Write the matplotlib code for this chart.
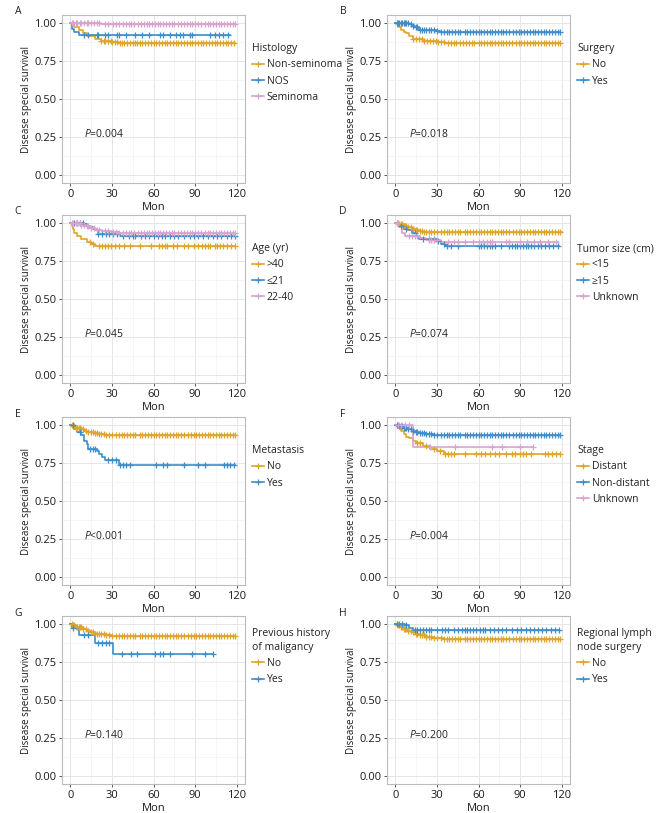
import numpy as np
import matplotlib.pyplot as plt
from matplotlib.lines import Line2D

plt.rcParams['font.family'] = ['Open Sans', 'DejaVu Sans']
plt.rcParams['mathtext.fontset'] = 'custom'
plt.rcParams['mathtext.it'] = 'Open Sans:italic'
plt.rcParams['mathtext.rm'] = 'Open Sans'

GOLD = '#DFA52A'
BLUE = '#3F8DCB'
PINK = '#D9A2CF'

# dense censoring lists (read roughly from the tick marks)
dense_a = [1, 2, 4, 5, 7, 8, 10, 12, 13, 15, 17, 19, 21, 25, 27, 31, 33, 35, 38, 40, 42, 44, 46, 49, 51,
           53, 55, 57, 59, 61, 63, 65, 67, 69, 71, 73, 75, 78, 80, 82, 84, 86, 88, 90, 92, 94, 97, 99,
           101, 103, 105, 107, 109, 111, 113, 115, 117, 119]
dense_b = [13, 15, 17, 19, 21, 23, 25, 27, 29, 31, 33, 35, 38, 40, 42, 44, 47, 49, 51, 53, 55, 57, 60,
           62, 64, 66, 68, 70, 72, 74, 76, 78, 80, 82, 84, 87, 89, 91, 93, 95, 97, 99, 101, 103, 105,
           107, 109, 111, 113, 115, 117, 119]
dense_c = [1, 2, 3, 4, 5, 6, 7, 8, 9, 11, 13, 15, 16, 18, 19, 21, 22, 24, 26, 28, 30, 33, 35, 37, 39,
           41, 43, 45, 47, 50, 52, 54, 56, 58, 60, 62, 64, 66, 68, 70, 72, 74, 76, 78, 80, 82, 85, 87,
           89, 91, 93, 95, 97, 99, 101, 103, 105, 107, 109, 111, 113, 115, 117, 119]

# A - Histology
a_labels = ['Non-seminoma', 'NOS', 'Seminoma']
a_t = [[3, 6, 9, 12, 18, 22, 30, 35], [1, 3, 6], [22]]
a_s = [[0.97, 0.95, 0.93, 0.91, 0.89, 0.88, 0.875, 0.865], [0.96, 0.94, 0.92], [0.99]]
a_end = [119, 115, 119]
a_cens = [[22, 24, 25, 27, 29, 30, 32, 34, 36, 37, 39, 41, 43, 45, 47, 48, 50, 52, 54, 56, 58, 60, 62,
           64, 66, 68, 70, 72, 74, 76, 78, 80, 82, 84, 86, 88, 90, 92, 94, 96, 98, 100, 102, 104, 106,
           108, 110, 112, 114, 116, 118],
          [10, 13, 19, 20, 25, 27, 34, 35, 40, 47, 52, 57, 65, 67, 72, 76, 79, 81, 86, 88, 101, 104,
           107, 110, 114],
          dense_a]

# B - Surgery
b_labels = ['No', 'Yes']
b_t = [[1, 2, 4, 6, 8, 10, 13, 20, 30, 36], [10, 12, 14, 17, 20, 30, 32]]
b_s = [[0.99, 0.97, 0.955, 0.94, 0.93, 0.91, 0.89, 0.88, 0.875, 0.865],
       [0.99, 0.98, 0.97, 0.955, 0.95, 0.945, 0.94]]
b_end = [119, 119]
b_cens = [dense_b, dense_c]

# C - Age
c_labels = ['>40', '≤21', '22-40']
c_t = [[1, 2, 3, 5, 8, 12, 15, 18], [10, 12, 14, 16, 18, 20, 36],
       [4, 8, 11, 14, 18, 23, 30, 35]]
c_s = [[0.98, 0.96, 0.93, 0.91, 0.89, 0.87, 0.86, 0.85],
       [0.99, 0.98, 0.97, 0.96, 0.95, 0.925, 0.91],
       [0.995, 0.985, 0.975, 0.965, 0.955, 0.945, 0.94, 0.935]]
c_end = [119, 119, 119]
c_cens = [[14, 16, 21, 23, 25, 27, 29, 32, 35, 39, 43, 50, 58, 64, 66, 68, 70, 74, 77, 82, 85, 89, 92,
           95, 97, 99, 101, 104, 106, 108, 110, 113, 116, 119],
          [3, 5, 7, 9, 20, 23, 26, 28, 31, 34, 38, 42, 45, 47, 51, 54, 57, 60, 63, 66, 68, 72, 75, 78,
           82, 86, 89, 92, 96, 99, 103, 106, 109, 113, 116, 119],
          dense_a]

# D - Tumor size
d_labels = ['<15', '≥15', 'Unknown']
d_t = [[3, 6, 9, 12, 15, 18, 20], [3, 6, 9, 12, 15, 17, 30, 33, 36], [3, 5, 7, 18, 22, 33]]
d_s = [[0.99, 0.98, 0.97, 0.96, 0.955, 0.945, 0.94],
       [0.98, 0.96, 0.95, 0.93, 0.91, 0.89, 0.88, 0.86, 0.85],
       [0.97, 0.93, 0.91, 0.90, 0.885, 0.875]]
d_end = [120, 118, 117]
d_cens = [dense_c,
          [4, 8, 14, 20, 24, 28, 31, 35, 37, 40, 45, 60, 62, 64, 66, 68, 70, 72, 76, 82, 84, 86, 88, 90,
           92, 94, 96, 98, 100, 103, 105, 108, 111, 114, 117],
          [1, 2, 10, 12, 14, 16, 24, 26, 28, 30, 38, 42, 45, 50, 56, 60, 63, 66, 68, 70, 80, 82, 90, 95,
           100, 104, 110, 116]]

# E - Metastasis
e_labels = ['No', 'Yes']
e_t = [[2, 4, 6, 8, 10, 12, 14, 17, 20, 25], [3, 5, 8, 10, 12, 13, 19, 21, 23, 25, 35]]
e_s = [[0.99, 0.98, 0.975, 0.97, 0.96, 0.955, 0.95, 0.945, 0.94, 0.935],
       [0.97, 0.95, 0.93, 0.89, 0.87, 0.84, 0.83, 0.81, 0.79, 0.77, 0.735]]
e_end = [119, 119]
e_cens = [dense_c,
          [2, 7, 14, 16, 18, 27, 30, 33, 36, 38, 40, 43, 62, 67, 70, 82, 92, 97, 111, 113, 115, 118]]

# F - Stage
f_labels = ['Distant', 'Non-distant', 'Unknown']
f_t = [[2, 4, 6, 8, 10, 13, 15, 20, 25, 30, 35], [3, 6, 9, 12, 15, 18, 22, 28], [13]]
f_s = [[0.98, 0.96, 0.94, 0.92, 0.91, 0.89, 0.88, 0.86, 0.84, 0.83, 0.81],
       [0.99, 0.98, 0.97, 0.96, 0.955, 0.945, 0.94, 0.935],
       [0.855]]
f_end = [119, 119, 99]
f_cens = [[16, 18, 22, 28, 32, 36, 38, 40, 42, 50, 58, 62, 65, 68, 72, 75, 80, 84, 86, 90, 92, 94, 98,
           108, 110, 113, 116, 119],
          dense_c,
          [2, 4, 7, 10, 25, 43, 70, 77, 90, 99]]

# G - Previous history of malignancy
g_labels = ['No', 'Yes']
g_t = [[2, 4, 6, 9, 12, 15, 18, 22, 26, 30, 35], [1, 6, 18, 31]]
g_s = [[0.99, 0.98, 0.975, 0.965, 0.955, 0.945, 0.935, 0.93, 0.925, 0.922, 0.918],
       [0.97, 0.925, 0.87, 0.80]]
g_end = [119, 103]
g_cens = [dense_c,
          [2, 10, 13, 20, 23, 26, 28, 37, 44, 48, 61, 65, 67, 72, 88, 97, 103]]

# H - Regional lymph node surgery
h_labels = ['No', 'Yes']
h_t = [[2, 4, 6, 9, 12, 15, 18, 22, 28, 35], [7, 10, 13]]
h_s = [[0.99, 0.975, 0.965, 0.955, 0.945, 0.935, 0.925, 0.915, 0.905, 0.90],
       [0.99, 0.97, 0.96]]
h_end = [119, 118]
h_cens = [dense_c,
          [1, 3, 5, 8, 14, 16, 18, 20, 22, 24, 26, 30, 34, 36, 38, 42, 45, 48, 50, 52, 54, 56, 58, 61,
           63, 65, 68, 71, 74, 77, 80, 84, 88, 91, 94, 97, 100, 103, 106, 109, 112, 115, 118]]

panels = [
    ('A', 'Histology', a_labels, a_t, a_s, a_end, a_cens, 'P=0.004'),
    ('B', 'Surgery', b_labels, b_t, b_s, b_end, b_cens, 'P=0.018'),
    ('C', 'Age (yr)', c_labels, c_t, c_s, c_end, c_cens, 'P=0.045'),
    ('D', 'Tumor size (cm)', d_labels, d_t, d_s, d_end, d_cens, 'P=0.074'),
    ('E', 'Metastasis', e_labels, e_t, e_s, e_end, e_cens, 'P<0.001'),
    ('F', 'Stage', f_labels, f_t, f_s, f_end, f_cens, 'P=0.004'),
    ('G', 'Previous history\nof maligancy', g_labels, g_t, g_s, g_end, g_cens, 'P=0.140'),
    ('H', 'Regional lymph\nnode surgery', h_labels, h_t, h_s, h_end, h_cens, 'P=0.200'),
]
colors = [GOLD, BLUE, PINK]

W, H = 666, 813
fig = plt.figure(figsize=(W / 100, H / 100), dpi=100)

col_x = [62, 387]
row_top = [15, 215, 417, 616]
ax_w, ax_h = 183, 168

for i, (letter, title, labels, ts, ss, ends, cens, ptxt) in enumerate(panels):
    r, c = divmod(i, 2)
    x0 = col_x[c]
    y0 = row_top[r]
    ax = fig.add_axes([x0 / W, 1 - (y0 + ax_h) / H, ax_w / W, ax_h / H])

    handles = []
    for k in range(len(labels)):
        tx = np.array([0] + ts[k] + [ends[k]], dtype=float)
        sy = np.array([1.0] + ss[k] + [ss[k][-1]])
        ax.step(tx, sy, where='post', color=colors[k], lw=1.2, zorder=3)
        ct = np.array(cens[k], dtype=float)
        ct = ct[ct <= ends[k]]
        idx = np.searchsorted(tx, ct, side='right') - 1
        ax.plot(ct, sy[idx], ls='none', marker='+', ms=4, mew=0.9, color=colors[k], zorder=4)
        handles.append(Line2D([], [], color=colors[k], lw=1.2, marker='+', ms=4, mew=0.9))

    ax.set_xlim(-6, 126)
    ax.set_ylim(-0.05, 1.05)
    ax.set_xticks([0, 30, 60, 90, 120])
    ax.set_xticks([15, 45, 75, 105], minor=True)
    ax.set_yticks([0, 0.25, 0.5, 0.75, 1.0])
    ax.set_yticklabels(['0.00', '0.25', '0.50', '0.75', '1.00'])
    ax.set_yticks([0.125, 0.375, 0.625, 0.875], minor=True)
    ax.grid(which='major', color='#E6E6E6', lw=0.7)
    ax.grid(which='minor', color='#F2F2F2', lw=0.5)
    ax.set_axisbelow(True)
    for sp in ax.spines.values():
        sp.set_color('#BBBBBB')
        sp.set_linewidth(0.8)
    ax.tick_params(which='major', length=2.5, width=0.7, color='#555555',
                   labelsize=8, labelcolor='#1A1A1A', pad=1.5)
    ax.tick_params(which='minor', length=0)
    ax.set_xlabel('Mon', fontsize=8, labelpad=2, color='#1A1A1A')
    ax.set_ylabel('Disease special survival', fontsize=7, labelpad=2, color='#1A1A1A')

    ax.text(10, 0.27, r'$\it{P}$' + ptxt[1:], fontsize=7.5, color='#222222', va='center')

    anchor_y = 0.97 if '\n' in title else 0.876
    leg = ax.legend(handles, labels, title=title, loc='upper left', bbox_to_anchor=(1.0, anchor_y),
                    frameon=False, fontsize=7.5, title_fontsize=7.5, handlelength=1.1,
                    handletextpad=0.3, labelspacing=0.5, borderaxespad=0.3, alignment='left')
    for txt in leg.get_texts():
        txt.set_color('#222222')
    leg.get_title().set_color('#222222')
    leg.get_title().set_linespacing(1.3)

    fig.text((18 if c == 0 else 343) / W, 1 - (y0 - 3) / H, letter, fontsize=7.5,
             ha='center', va='center', color='#222222')

fig.savefig('out.png', dpi=100)
